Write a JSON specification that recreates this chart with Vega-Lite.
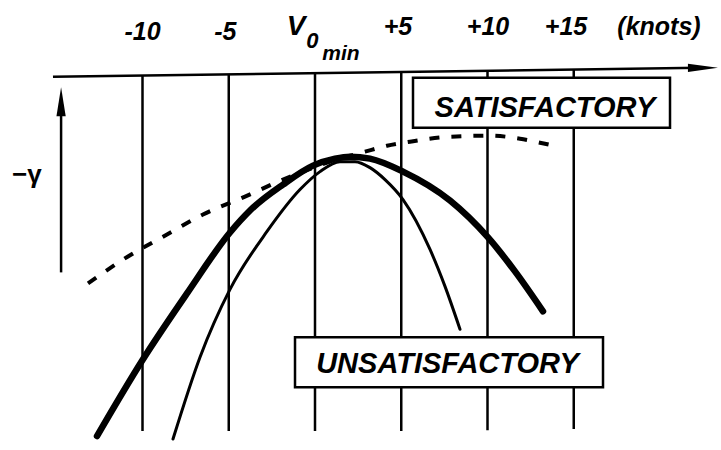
{
  "$schema": "https://vega.github.io/schema/vega-lite/v6.json",
  "width": 721,
  "height": 450,
  "autosize": {"type": "fit", "contains": "padding"},
  "padding": 0,
  "background": "white",
  "config": {"view": {"stroke": null}},
  "datasets": {
    "grid": [
      {"k": -10, "top": 12.477, "bottom": 0.6},
      {"k": -5, "top": 12.517, "bottom": 0.6},
      {"k": 0, "top": 12.553, "bottom": 0.6},
      {"k": 5, "top": 12.597, "bottom": 0.6},
      {"k": 10, "top": 12.637, "bottom": 0.63},
      {"k": 15, "top": 12.677, "bottom": 0.67}
    ],
    "axisLine": [
      {"k": -15.19, "v": 12.433},
      {"k": 22.32, "v": 12.733}
    ],
    "axisHead": [{"k": 22.49, "v": 12.733}],
    "upArrow": [{"k": -14.72, "v": 5.9, "v2": 11.267}],
    "upHead": [{"k": -14.72, "v": 11.6}],
    "curves": [
      {"curve": "thick", "k": -12.638, "v": 0.433},
      {"curve": "thick", "k": -9.971, "v": 3.0},
      {"curve": "thick", "k": -7.42, "v": 5.2},
      {"curve": "thick", "k": -4.928, "v": 7.233},
      {"curve": "thick", "k": -3.768, "v": 7.967},
      {"curve": "thick", "k": -1.855, "v": 8.833},
      {"curve": "thick", "k": -0.116, "v": 9.467},
      {"curve": "thick", "k": 1.159, "v": 9.7},
      {"curve": "thick", "k": 2.029, "v": 9.767},
      {"curve": "thick", "k": 3.188, "v": 9.7},
      {"curve": "thick", "k": 5.101, "v": 9.267},
      {"curve": "thick", "k": 7.826, "v": 8.3},
      {"curve": "thick", "k": 10.029, "v": 7.067},
      {"curve": "thick", "k": 11.594, "v": 5.933},
      {"curve": "thick", "k": 13.217, "v": 4.6},
      {"curve": "thin", "k": -8.232, "v": 0.333},
      {"curve": "thin", "k": -6.667, "v": 3.067},
      {"curve": "thin", "k": -4.928, "v": 5.333},
      {"curve": "thin", "k": -2.783, "v": 7.267},
      {"curve": "thin", "k": -0.87, "v": 8.667},
      {"curve": "thin", "k": 0.29, "v": 9.267},
      {"curve": "thin", "k": 1.449, "v": 9.6},
      {"curve": "thin", "k": 2.319, "v": 9.6},
      {"curve": "thin", "k": 3.188, "v": 9.4},
      {"curve": "thin", "k": 4.058, "v": 9.0},
      {"curve": "thin", "k": 5.101, "v": 8.333},
      {"curve": "thin", "k": 6.667, "v": 6.667},
      {"curve": "thin", "k": 7.536, "v": 5.433},
      {"curve": "thin", "k": 8.406, "v": 4.0},
      {"curve": "dashed", "k": -13.159, "v": 5.533},
      {"curve": "dashed", "k": -10.841, "v": 6.433},
      {"curve": "dashed", "k": -8.58, "v": 7.167},
      {"curve": "dashed", "k": -6.493, "v": 7.833},
      {"curve": "dashed", "k": -4.058, "v": 8.433},
      {"curve": "dashed", "k": -1.855, "v": 9.0},
      {"curve": "dashed", "k": -0.696, "v": 9.267},
      {"curve": "dashed", "k": 0.87, "v": 9.6},
      {"curve": "dashed", "k": 2.899, "v": 9.933},
      {"curve": "dashed", "k": 4.174, "v": 10.133},
      {"curve": "dashed", "k": 5.507, "v": 10.267},
      {"curve": "dashed", "k": 7.826, "v": 10.433},
      {"curve": "dashed", "k": 10.145, "v": 10.467},
      {"curve": "dashed", "k": 11.884, "v": 10.367},
      {"curve": "dashed", "k": 13.043, "v": 10.233},
      {"curve": "dashed", "k": 14.087, "v": 10.1}
    ],
    "boxes": [
      {"k1": 5.681, "k2": 20.58, "v1": 12.4, "v2": 10.733, "kt": 13.333, "vt": 11.1, "label": "SATISFACTORY"},
      {"k1": -1.159, "k2": 16.696, "v1": 3.733, "v2": 2.067, "kt": 7.681, "vt": 2.533, "label": "UNSATISFACTORY"}
    ],
    "labels": [
      {"g": "tick", "k": -10, "v": 13.667, "label": "-10"},
      {"g": "tick", "k": -5.2, "v": 13.667, "label": "-5"},
      {"g": "tick", "k": 4.81, "v": 13.833, "label": "+5"},
      {"g": "tick", "k": 10.03, "v": 13.833, "label": "+10"},
      {"g": "tick", "k": 14.55, "v": 13.833, "label": "+15"},
      {"g": "tick", "k": 19.94, "v": 13.833, "label": "(knots)"},
      {"g": "V", "k": -1.1, "v": 13.833, "label": "V"},
      {"g": "sub", "k": -0.15, "v": 13.4, "label": "0"},
      {"g": "min", "k": 1.5, "v": 13.0, "label": "min"},
      {"g": "gamma", "k": -16.7, "v": 9.17, "label": "−γ"}
    ]
  },
  "layer": [
    {
      "data": {"name": "grid"},
      "mark": {"type": "rule", "stroke": "black", "strokeWidth": 2.5},
      "encoding": {
        "x": {"field": "k", "type": "quantitative", "scale": {"domain": [-18.261, 23.536], "nice": false, "zero": false}, "axis": null},
        "y": {"field": "top", "type": "quantitative", "scale": {"domain": [0, 15], "nice": false, "zero": false}, "axis": null},
        "y2": {"field": "bottom"}
      }
    },
    {
      "data": {"name": "axisLine"},
      "mark": {"type": "line", "stroke": "black", "strokeWidth": 2.5},
      "encoding": {
        "x": {"field": "k", "type": "quantitative", "axis": null},
        "y": {"field": "v", "type": "quantitative", "axis": null}
      }
    },
    {
      "data": {"name": "axisHead"},
      "mark": {"type": "point", "shape": "M-1,-0.28L1,0L-1,0.28Z", "size": 900, "filled": true, "fill": "black", "opacity": 1, "strokeWidth": 0},
      "encoding": {
        "x": {"field": "k", "type": "quantitative", "axis": null},
        "y": {"field": "v", "type": "quantitative", "axis": null}
      }
    },
    {
      "data": {"name": "upArrow"},
      "mark": {"type": "rule", "stroke": "black", "strokeWidth": 2.5},
      "encoding": {
        "x": {"field": "k", "type": "quantitative", "axis": null},
        "y": {"field": "v", "type": "quantitative", "axis": null},
        "y2": {"field": "v2"}
      }
    },
    {
      "data": {"name": "upHead"},
      "mark": {"type": "point", "shape": "M-0.32,1L0,-1L0.32,1Z", "size": 841, "filled": true, "fill": "black", "opacity": 1, "strokeWidth": 0},
      "encoding": {
        "x": {"field": "k", "type": "quantitative", "axis": null},
        "y": {"field": "v", "type": "quantitative", "axis": null}
      }
    },
    {
      "data": {"name": "curves"},
      "transform": [{"filter": "datum.curve === 'dashed'"}],
      "mark": {"type": "line", "interpolate": "monotone", "stroke": "black", "strokeWidth": 4, "strokeDash": [10, 12]},
      "encoding": {
        "x": {"field": "k", "type": "quantitative", "axis": null},
        "y": {"field": "v", "type": "quantitative", "axis": null}
      }
    },
    {
      "data": {"name": "curves"},
      "transform": [{"filter": "datum.curve === 'thin'"}],
      "mark": {"type": "line", "interpolate": "monotone", "stroke": "black", "strokeWidth": 3, "strokeCap": "round"},
      "encoding": {
        "x": {"field": "k", "type": "quantitative", "axis": null},
        "y": {"field": "v", "type": "quantitative", "axis": null}
      }
    },
    {
      "data": {"name": "curves"},
      "transform": [{"filter": "datum.curve === 'thick'"}],
      "mark": {"type": "line", "interpolate": "monotone", "stroke": "black", "strokeWidth": 6.5, "strokeCap": "round"},
      "encoding": {
        "x": {"field": "k", "type": "quantitative", "axis": null},
        "y": {"field": "v", "type": "quantitative", "axis": null}
      }
    },
    {
      "data": {"name": "boxes"},
      "mark": {"type": "rect", "fill": "white", "stroke": "black", "strokeWidth": 2.5},
      "encoding": {
        "x": {"field": "k1", "type": "quantitative", "axis": null},
        "x2": {"field": "k2"},
        "y": {"field": "v1", "type": "quantitative", "axis": null},
        "y2": {"field": "v2"}
      }
    },
    {
      "data": {"name": "boxes"},
      "mark": {"type": "text", "font": "Liberation Sans", "fontSize": 29, "fontStyle": "italic", "fontWeight": "bold", "align": "center", "baseline": "alphabetic", "fill": "black"},
      "encoding": {
        "x": {"field": "kt", "type": "quantitative", "axis": null},
        "y": {"field": "vt", "type": "quantitative", "axis": null},
        "text": {"field": "label"}
      }
    },
    {
      "data": {"name": "labels"},
      "transform": [{"filter": "datum.g === 'tick'"}],
      "mark": {"type": "text", "font": "Liberation Sans", "fontSize": 25, "fontStyle": "italic", "fontWeight": "bold", "align": "center", "baseline": "alphabetic", "fill": "black"},
      "encoding": {
        "x": {"field": "k", "type": "quantitative", "axis": null},
        "y": {"field": "v", "type": "quantitative", "axis": null},
        "text": {"field": "label"}
      }
    },
    {
      "data": {"name": "labels"},
      "transform": [{"filter": "datum.g === 'V'"}],
      "mark": {"type": "text", "font": "Liberation Sans", "fontSize": 28, "fontStyle": "italic", "fontWeight": "bold", "align": "center", "baseline": "alphabetic", "fill": "black"},
      "encoding": {
        "x": {"field": "k", "type": "quantitative", "axis": null},
        "y": {"field": "v", "type": "quantitative", "axis": null},
        "text": {"field": "label"}
      }
    },
    {
      "data": {"name": "labels"},
      "transform": [{"filter": "datum.g === 'sub'"}],
      "mark": {"type": "text", "font": "Liberation Sans", "fontSize": 22, "fontStyle": "italic", "fontWeight": "bold", "align": "center", "baseline": "alphabetic", "fill": "black"},
      "encoding": {
        "x": {"field": "k", "type": "quantitative", "axis": null},
        "y": {"field": "v", "type": "quantitative", "axis": null},
        "text": {"field": "label"}
      }
    },
    {
      "data": {"name": "labels"},
      "transform": [{"filter": "datum.g === 'min'"}],
      "mark": {"type": "text", "font": "Liberation Sans", "fontSize": 21, "fontStyle": "italic", "fontWeight": "bold", "align": "center", "baseline": "alphabetic", "fill": "black"},
      "encoding": {
        "x": {"field": "k", "type": "quantitative", "axis": null},
        "y": {"field": "v", "type": "quantitative", "axis": null},
        "text": {"field": "label"}
      }
    },
    {
      "data": {"name": "labels"},
      "transform": [{"filter": "datum.g === 'gamma'"}],
      "mark": {"type": "text", "font": "Liberation Sans", "fontSize": 26, "fontWeight": "bold", "align": "center", "baseline": "middle", "fill": "black"},
      "encoding": {
        "x": {"field": "k", "type": "quantitative", "axis": null},
        "y": {"field": "v", "type": "quantitative", "axis": null},
        "text": {"field": "label"}
      }
    }
  ]
}
